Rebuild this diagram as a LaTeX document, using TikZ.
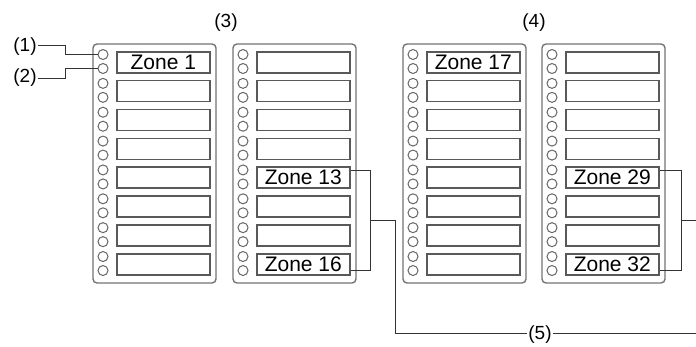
\documentclass[tikz,border=0pt]{standalone}
\usepackage{fontspec}
\setmainfont{Liberation Sans}
\usetikzlibrary{calc}
\begin{document}
\begin{tikzpicture}[x=1pt,y=-1pt,
  panel/.style={draw=black!55,line width=1.4pt,rounded corners=4pt},
  zonebox/.style={draw=black!65,line width=1.6pt,fill=white,minimum width=93pt,minimum height=21pt,inner sep=0pt,anchor=north west,font=\fontsize{21}{21}\selectfont},
  led/.style={circle,draw=black!60,line width=1pt,minimum size=10pt,inner sep=0pt},
  lbl/.style={font=\fontsize{19}{19}\selectfont,inner sep=1pt},
  zt/.style={anchor=center,font=\fontsize{21}{21}\selectfont,inner sep=0pt},
  wire/.style={draw=black!80,line width=0.8pt}]
\useasboundingbox (0,0) rectangle (696,346);
% panels
\foreach \p/\x in {1/93,2/233,3/403,4/542}{
  \draw[panel] (\x,44) rectangle ++(123,239);
  \foreach \i in {0,...,7}{
    \pgfmathsetmacro{\yy}{51+28.86*\i}
    \node[zonebox] (b\p-\i) at (\x+23,\yy) {};
    \node[led] (c\p-\i-a) at (\x+10,\yy+3.5) {};
    \node[led] (c\p-\i-b) at (\x+10,\yy+17.5) {};
  }
}
\node[zt] at (b1-0.center) {Zone 1};
\node[zt] at (b2-4.center) {Zone 13};
\node[zt] at (b2-7.center) {Zone 16};
\node[zt] at (b3-0.center) {Zone 17};
\node[zt] at (b4-4.center) {Zone 29};
\node[zt] at (b4-7.center) {Zone 32};
% labels
\node[lbl] (l1) at (25,47) {(1)};
\node[lbl] (l2) at (25,78) {(2)};
\node[lbl] (l3) at (226,23) {(3)};
\node[lbl] (l4) at (534,23) {(4)};
\node[lbl] (l5) at (540,335) {(5)};
\coordinate (k1) at (65,0);
\coordinate (kL) at (395,0);
\coordinate (kR) at (696,0);
\coordinate (e5) at (696,333);
\draw[wire] (l1.east|-0,45) -- (k1|-0,45) |- (c1-0-a.west);
\draw[wire] (l2.east|-0,78) -- (k1|-0,78) |- (c1-0-b.west);
% bracket panel 2
\draw[wire] (b2-4.east|-c2-4-a) -- ++(20,0) coordinate (t2) -- (t2|-c2-7-b) coordinate (u2) -- (b2-7.east|-c2-7-b);
\coordinate (m2) at ($(t2)!0.5!(u2)$);
\draw[wire] (m2) -- (kL|-m2) -- (kL|-0,333) -- (l5.west|-0,333);
\draw[wire] (l5.east|-0,333) -- (e5);
% bracket panel 4
\draw[wire] (b4-4.east|-c4-4-a) -- ++(22,0) coordinate (t4) -- (t4|-c4-7-b) coordinate (u4) -- (b4-7.east|-c4-7-b);
\coordinate (m4) at ($(t4)!0.5!(u4)$);
\draw[wire] (m4) -- (kR|-m4);
\end{tikzpicture}
\end{document}
